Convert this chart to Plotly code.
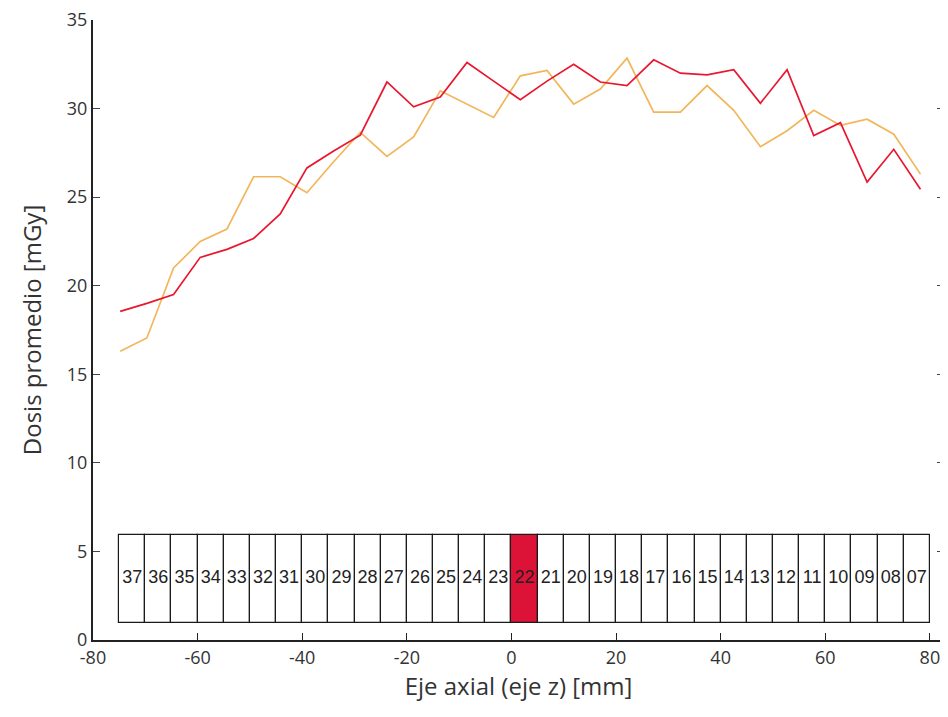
import plotly.graph_objects as go

# Axial positions (mm) of the dose measurements
z_mm = [-74.8, -69.7, -64.6, -59.5, -54.4, -49.3, -44.2, -39.1, -34.0, -28.9,
        -23.8, -18.7, -13.6, -8.5, -3.4, 1.7, 6.8, 11.9, 17.0, 22.1,
        27.2, 32.3, 37.4, 42.5, 47.6, 52.7, 57.8, 62.9, 68.0, 73.1, 78.2]

# Mean dose, red series [mGy]
dose_red = [18.55, 19.0, 19.5, 21.6, 22.05, 22.67, 24.05, 26.65, 27.6, 28.5,
            31.5, 30.1, 30.65, 32.6, 31.55, 30.5, 31.55, 32.5, 31.5, 31.3,
            32.75, 32.0, 31.9, 32.2, 30.3, 32.2, 28.48, 29.2, 25.85, 27.7, 25.45]

# Mean dose, orange series [mGy]
dose_orange = [16.3, 17.05, 21.0, 22.5, 23.2, 26.15, 26.15, 25.25, 27.0, 28.65,
               27.3, 28.4, 31.0, 30.25, 29.5, 31.85, 32.15, 30.25, 31.1, 32.85,
               29.8, 29.8, 31.3, 29.9, 27.85, 28.75, 29.9, 29.05, 29.4, 28.55, 26.3]

# Detector strip (slices), left to right
slice_labels = ["37", "36", "35", "34", "33", "32", "31", "30", "29", "28", "27",
                "26", "25", "24", "23", "22", "21", "20", "19", "18", "17", "16",
                "15", "14", "13", "12", "11", "10", "09", "08", "07"]
slice_centers = [-72.5, -67.5, -62.5, -57.5, -52.5, -47.5, -42.5, -37.5, -32.5,
                 -27.5, -22.5, -17.5, -12.5, -7.5, -2.5, 2.5, 7.5, 12.5, 17.5,
                 22.5, 27.5, 32.5, 37.5, 42.5, 47.5, 52.5, 57.5, 62.5, 67.5,
                 72.5, 77.5]
highlight = "22"
slice_bottom = 0.95
slice_top = 5.95

x_ticks = [-80, -60, -40, -20, 0, 20, 40, 60, 80]
x_ticklabels = ["-80", "-60", "-40", "-20", "0", "20", "40", "60", "80"]
y_ticks = [0, 5, 10, 15, 20, 25, 30, 35]

RED = "#E8172F"
ORANGE = "#F2B65A"
FILL_RED = "#DC1237"

fig = go.Figure()

fig.add_trace(go.Bar(
    x=slice_centers,
    y=[slice_top - slice_bottom] * len(slice_centers),
    base=[slice_bottom] * len(slice_centers),
    width=5,
    marker=dict(color=[FILL_RED if s == highlight else "white" for s in slice_labels],
                line=dict(color="#1a1a1a", width=1.2)),
    hoverinfo="skip",
    showlegend=False,
))

fig.add_trace(go.Scatter(
    x=slice_centers,
    y=[(slice_top + slice_bottom) / 2] * len(slice_centers),
    mode="text",
    text=slice_labels,
    textfont=dict(family="Liberation Sans, Arial", size=18, color="#222"),
    hoverinfo="skip",
    showlegend=False,
))

fig.add_trace(go.Scatter(
    x=z_mm, y=dose_orange, mode="lines",
    line=dict(color=ORANGE, width=1.7),
    showlegend=False,
))
fig.add_trace(go.Scatter(
    x=z_mm, y=dose_red, mode="lines",
    line=dict(color=RED, width=1.7),
    showlegend=False,
))

axis_font = dict(family="Open Sans, sans-serif", size=18, color="#333")
title_font = dict(family="Open Sans, sans-serif", size=24, color="#333")
fig.update_layout(
    width=948, height=717,
    margin=dict(l=85, r=12, t=12, b=85, autoexpand=False),
    paper_bgcolor="white", plot_bgcolor="white",
    bargap=0,
    xaxis=dict(
        range=[-80, 82.7], tickvals=x_ticks, ticktext=x_ticklabels,
        showgrid=False, zeroline=False,
        showline=True, linecolor="#222", linewidth=2,
        ticks="inside", ticklen=7, tickcolor="#222", tickwidth=1,
        tickfont=axis_font, ticklabeloverflow="allow",
        title=dict(text="Eje axial (eje z) [mm]", font=title_font, standoff=6),
    ),
    yaxis=dict(
        range=[0, 35], tickvals=y_ticks,
        showgrid=False, zeroline=False,
        showline=True, linecolor="#222", linewidth=2, mirror="ticks",
        ticks="inside", ticklen=7, tickcolor="#444", tickwidth=1,
        tickfont=axis_font, ticklabeloverflow="allow",
        title=dict(text="Dosis promedio [mGy]", font=title_font, standoff=18),
    ),
)

fig.write_html("out.html")
